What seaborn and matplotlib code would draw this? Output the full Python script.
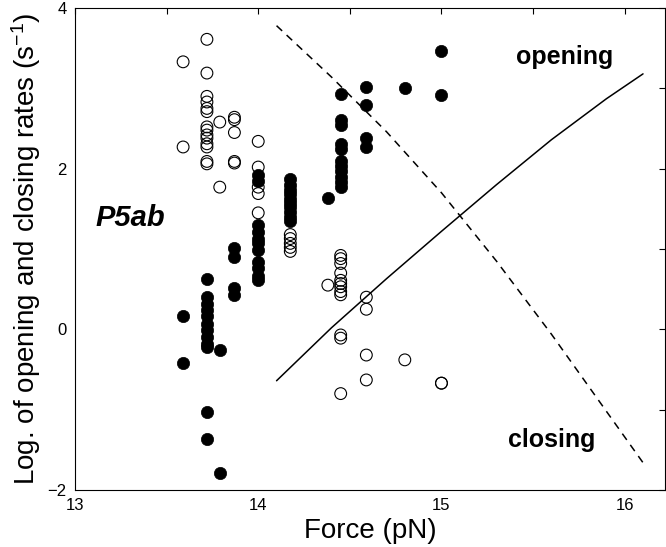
import matplotlib
matplotlib.use("Agg")
import matplotlib.pyplot as plt
import seaborn as sns
import pandas as pd
import numpy as np

# ---- data ----
open_force = ([13.59] * 2 + [13.72] * 12 + [13.79] * 2 + [13.87] * 4 + [14.0] * 11
              + [14.175] * 10 + [14.38] + [14.45] * 11 + [14.59] * 4 + [14.80] + [15.0] * 2)
open_rate = [0.16, -0.42,
             0.63, 0.40, 0.32, 0.24, 0.16, 0.07, -0.01, -0.09, -0.18, -0.22, -1.03, -1.37,
             -0.26, -1.79,
             1.01, 0.90, 0.52, 0.43,
             1.92, 1.85, 1.30, 1.21, 1.13, 1.07, 0.99, 0.84, 0.76, 0.67, 0.61,
             1.87, 1.80, 1.74, 1.68, 1.62, 1.57, 1.52, 1.46, 1.40, 1.35,
             1.63,
             2.93, 2.61, 2.54, 2.31, 2.25, 2.09, 2.03, 1.97, 1.90, 1.84, 1.77,
             3.02, 2.79, 2.38, 2.27,
             3.00,
             3.47, 2.92]

close_force = ([13.59] * 2 + [13.72] * 14 + [13.79] * 2 + [13.87] * 5 + [14.0] * 5
               + [14.175] * 5 + [14.38] + [14.45] * 12 + [14.59] * 4 + [14.80] + [15.0] * 2)
close_rate = [3.33, 2.27,
              3.61, 3.19, 2.90, 2.83, 2.75, 2.71, 2.52, 2.48, 2.42, 2.38, 2.31, 2.27, 2.09, 2.06,
              2.58, 1.77,
              2.64, 2.61, 2.45, 2.09, 2.07,
              2.34, 2.02, 1.77, 1.69, 1.45,
              1.18, 1.13, 1.07, 1.02, 0.97,
              0.55,
              0.92, 0.88, 0.82, 0.70, 0.61, 0.57, 0.53, 0.47, 0.43, -0.07, -0.11, -0.80,
              0.40, 0.25, -0.32, -0.63,
              -0.38,
              -0.67, -0.67]

fit_open_force = [14.1, 14.4, 14.7, 15.0, 15.3, 15.6, 15.9, 16.1]
fit_open_rate = [-0.64, 0.02, 0.63, 1.22, 1.80, 2.36, 2.87, 3.18]
fit_close_force = [14.1, 14.4, 14.7, 15.0, 15.3, 15.6, 15.9, 16.1]
fit_close_rate = [3.78, 3.14, 2.46, 1.70, 0.85, -0.06, -1.02, -1.66]

x_ticks = [13, 13.5, 14, 14.5, 15, 15.5, 16]
x_labels = ["13", "", "14", "", "15", "", "16"]
y_ticks = [-2, -1, 0, 1, 2, 3, 4]
y_labels = ["\u22122", "", "0", "", "2", "", "4"]

# ---- style ----
sns.set_theme(style="white")
plt.rcParams["font.family"] = ["Liberation Sans", "DejaVu Sans"]
plt.rcParams["text.color"] = "black"
plt.rcParams["axes.labelcolor"] = "black"
plt.rcParams["mathtext.fontset"] = "custom"
plt.rcParams["mathtext.rm"] = "Liberation Sans"
plt.rcParams["mathtext.it"] = "Liberation Sans:italic"
plt.rcParams["mathtext.bf"] = "Liberation Sans:bold"

fig = plt.figure(figsize=(6.66, 5.47), dpi=100)
ax = fig.add_axes([75 / 666, 1 - 490 / 547, 590 / 666, 482 / 547])

df_open = pd.DataFrame({"force": open_force, "rate": open_rate})
df_close = pd.DataFrame({"force": close_force, "rate": close_rate})
df_fo = pd.DataFrame({"force": fit_open_force, "rate": fit_open_rate})
df_fc = pd.DataFrame({"force": fit_close_force, "rate": fit_close_rate})

sns.lineplot(data=df_fo, x="force", y="rate", ax=ax, color="black", lw=1.1,
             sort=False, estimator=None)
sns.lineplot(data=df_fc, x="force", y="rate", ax=ax, color="black", lw=1.1,
             sort=False, estimator=None, dashes=False, linestyle=(0, (5, 4)))
sns.scatterplot(data=df_close, x="force", y="rate", ax=ax, s=72, marker="o",
                facecolor="none", edgecolor="black", linewidth=0.8, zorder=3)
sns.scatterplot(data=df_open, x="force", y="rate", ax=ax, s=78, marker="o",
                color="black", edgecolor="black", linewidth=0.5, zorder=4)

ax.set_xlim(13, 16.22)
ax.set_ylim(-2, 4)
ax.set_xticks(x_ticks)
ax.set_xticklabels(x_labels)
ax.set_yticks(y_ticks)
ax.set_yticklabels(y_labels)
ax.tick_params(direction="in", length=4, width=0.8, top=True, right=True,
               labelsize=12, colors="black", pad=6)
for sp in ax.spines.values():
    sp.set_visible(True)
    sp.set_color("black")
    sp.set_linewidth(0.8)

ax.set_xlabel("Force (pN)", fontsize=20, labelpad=3)
ax.set_ylabel("Log. of opening and closing rates (s$^{-1}$)", fontsize=20, labelpad=3)

ax.text(15.67, 3.39, "opening", fontsize=18, fontweight="bold", ha="center", va="center")
ax.text(15.6, -1.38, "closing", fontsize=18, fontweight="bold", ha="center", va="center")
ax.text(13.49, 1.38, "P5ab", fontsize=21, fontweight="bold", fontstyle="italic",
        ha="right", va="center")

fig.savefig("out.png", dpi=100)
